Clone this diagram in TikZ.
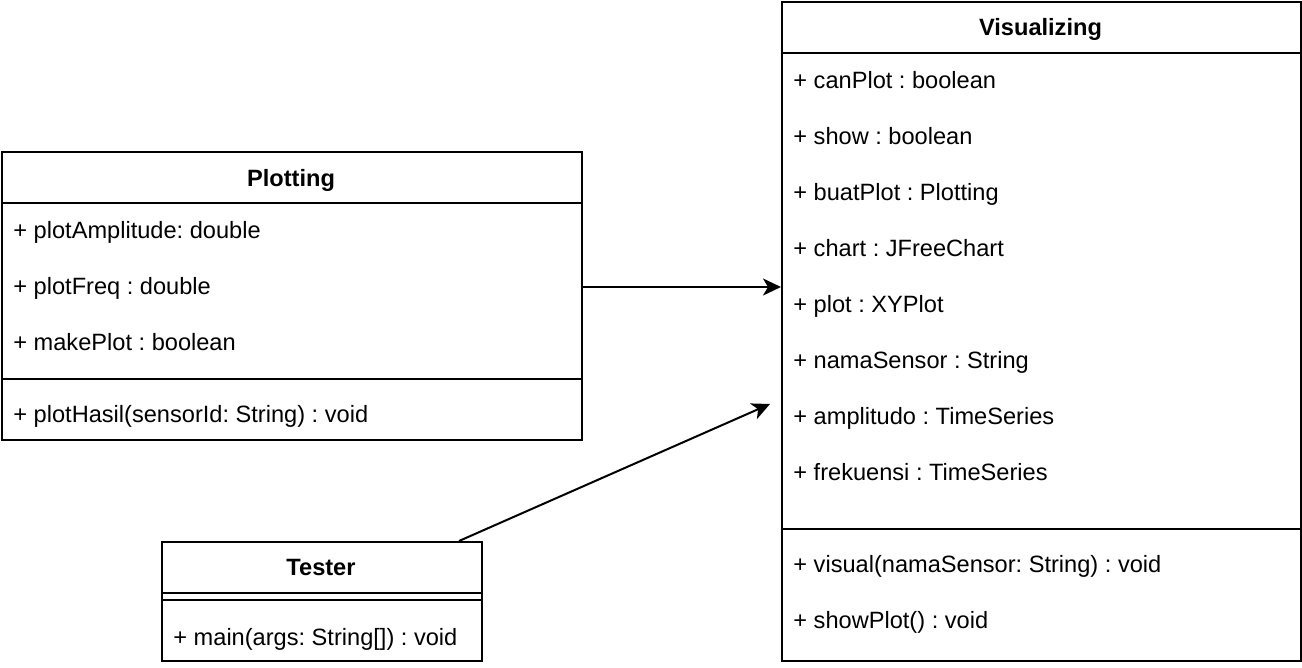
\documentclass[tikz,border=0pt]{standalone}
\usepackage{fontspec}
\setmainfont{Liberation Sans}
\frenchspacing
\usetikzlibrary{arrows.meta}

\begin{document}
\begin{tikzpicture}[x=0.5pt, y=-0.5pt,
        umlbox/.style={draw, line width=1pt, anchor=north west, inner sep=0pt},
        member/.style={anchor=base west, inner sep=0pt, font=\fontsize{11.8pt}{14pt}\selectfont},
        title/.style={anchor=base, inner sep=0pt, font=\fontsize{11.8pt}{14pt}\selectfont\bfseries},
        assoc/.style={line width=1pt, -{Stealth[length=9pt, width=8.5pt, inset=2.5pt]}}]
        \useasboundingbox (0,0) rectangle (1302,668);
        % class boxes
        \node[umlbox, minimum width=290pt, minimum height=144pt] (plotting) at (1,151) {};
        \node[umlbox, minimum width=259.5pt, minimum height=329.5pt] (visual) at (781,1) {};
        \node[umlbox, minimum width=160pt, minimum height=59.5pt] (tester) at (161,541) {};
        % compartments
        \draw[line width=1pt] (plotting.west |- 0,203) -- (plotting.east |- 0,203);
        \draw[line width=1pt] (plotting.west |- 0,379) -- (plotting.east |- 0,379);
        \draw[line width=1pt] (visual.west |- 0,53) -- (visual.east |- 0,53);
        \draw[line width=1pt] (visual.west |- 0,529) -- (visual.east |- 0,529);
        \draw[line width=1pt] (tester.west |- 0,593) -- (tester.east |- 0,593);
        \draw[line width=1pt] (tester.west |- 0,600) -- (tester.east |- 0,600);
        % Plotting
        \node[title] (tPlot) at (291,186.5) {Plotting};
        \node[member] (pAmp) at (13,238.5) {+ plotAmplitude: double};
        \node[member] (pFreq) at (13,294.5) {+ plotFreq : double};
        \node[member] (pMake) at (13,350.5) {+ makePlot : boolean};
        \node[member] (pHasil) at (13,422.5) {+ plotHasil(sensorId: String) : void};
        % Visualizing
        \node[title] (tVis) at (1040.5,35.5) {Visualizing};
        \foreach \txt [count=\i] in {canPlot : boolean, show : boolean, buatPlot : Plotting,
                chart : JFreeChart, plot : XYPlot, namaSensor : String,
                amplitudo : TimeSeries, frekuensi : TimeSeries}
            \node[member] (va\i) at (793,32.5+56*\i) {+ \txt};
        \node[member] (vVisual) at (793,572.5) {+ visual(namaSensor: String) : void};
        \node[member] (vShow) at (793,628.5) {+ showPlot() : void};
        % Tester
        \node[title] (tTest) at (321,575.5) {Tester};
        \node[member] (tMain) at (173,645) {+ main(args: String[]) : void};
        % associations
        \coordinate (tEnd) at (770,404);
        \draw[assoc] (plotting.east |- 0,287) -- (visual.west |- 0,287);
        \draw[assoc] ([xshift=-12pt]tester.north east) -- (tEnd);
    \end{tikzpicture}
\end{document}
